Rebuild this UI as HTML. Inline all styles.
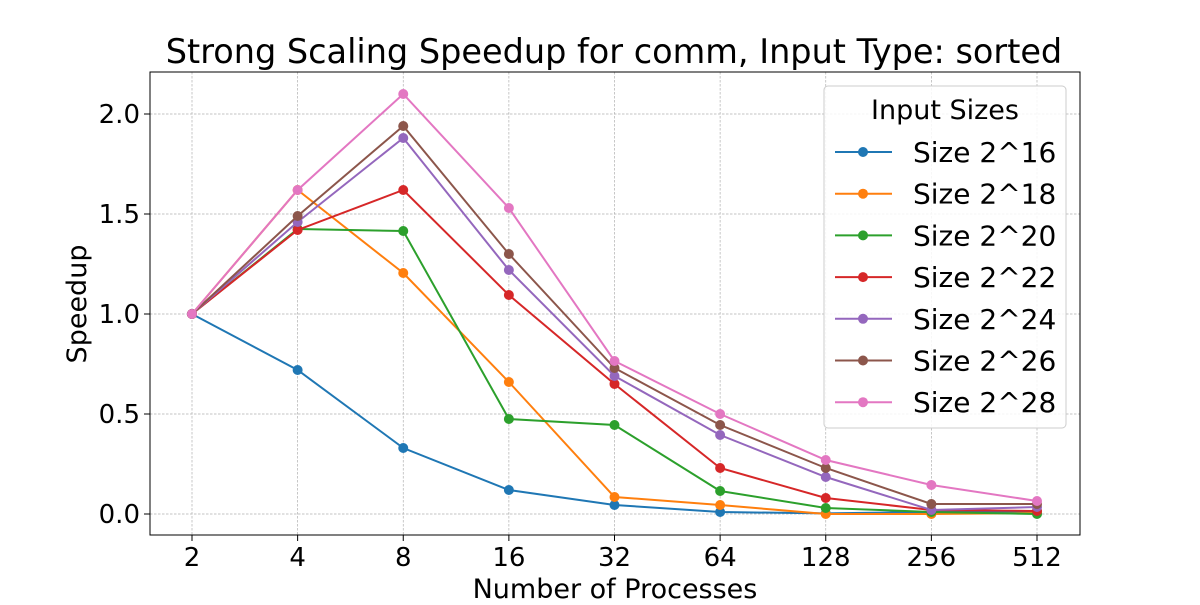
<!DOCTYPE html>
<html><head><meta charset="utf-8"><style>
body{margin:0;background:#fff;font-family:"Liberation Sans","DejaVu Sans",sans-serif}
svg text{font-family:"DejaVu Sans","Liberation Sans",sans-serif}
</style></head><body>
<svg id="chart" width="1200" height="600" xmlns="http://www.w3.org/2000/svg"></svg>
<script>
const categories=["2","4","8","16","32","64","128","256","512"];
const seriesNames=["Size 2^16","Size 2^18","Size 2^20","Size 2^22","Size 2^24","Size 2^26","Size 2^28"];
const s16=[1,0.72,0.33,0.12,0.045,0.01,0.003,0.01,0.01];
const s18=[1,1.62,1.205,0.66,0.085,0.045,0.0,0.0,0.005];
const s20=[1,1.425,1.415,0.475,0.445,0.115,0.03,0.01,0.0];
const s22=[1,1.42,1.62,1.095,0.65,0.23,0.08,0.02,0.015];
const s24=[1,1.46,1.88,1.22,0.69,0.395,0.185,0.02,0.035];
const s26=[1,1.49,1.94,1.30,0.73,0.445,0.23,0.05,0.05];
const s28=[1,1.62,2.10,1.53,0.765,0.50,0.27,0.145,0.065];
const yTicks=[0,0.5,1.0,1.5,2.0];
const yTickLabels=["0.0","0.5","1.0","1.5","2.0"];
const series=[s16,s18,s20,s22,s24,s26,s28];
const colors=["#1f77b4","#ff7f0e","#2ca02c","#d62728","#9467bd","#8c564b","#e377c2"];
const svg=document.getElementById('chart');
const NS="http://www.w3.org/2000/svg";
const L=150,R=1080,T=72,B=535;
const x=i=>192+i*(1037-192)/(categories.length-1);
const y=v=>514-200*v;
function mk(t,a,p){const e=document.createElementNS(NS,t);for(const k in a)e.setAttribute(k,a[k]);(p||svg).appendChild(e);return e;}
categories.forEach((c,i)=>{const g=mk('line',{x1:x(i),x2:x(i),y1:T,y2:B,stroke:'#b0b0b0','stroke-width':0.7,'stroke-dasharray':'2.5,1.5'});


const tk=mk('line',{x1:x(i),x2:x(i),y1:B,y2:B+6,stroke:'#000','stroke-width':1});


const t=mk('text',{x:x(i),y:B+31,'text-anchor':'middle','font-size':26});t.textContent=c;

});
yTicks.forEach((v,i)=>{const g=mk('line',{x1:L,x2:R,y1:y(v),y2:y(v),stroke:'#b0b0b0','stroke-width':0.7,'stroke-dasharray':'2.5,1.5'});


const tk=mk('line',{x1:L-6,x2:L,y1:y(v),y2:y(v),stroke:'#000','stroke-width':1});


const t=mk('text',{x:L-10,y:y(v)+9,'text-anchor':'end','font-size':26});t.textContent=yTickLabels[i];

});
const fr=mk('rect',{x:L,y:T,width:R-L,height:B-T,fill:'none',stroke:'#000','stroke-width':1});


series.forEach((s,k)=>{const pts=s.map((v,i)=>x(i)+','+y(v)).join(' ');
const pl=mk('polyline',{points:pts,fill:'none',stroke:colors[k],'stroke-width':2});


s.forEach((v,i)=>{const c=mk('circle',{cx:x(i),cy:y(v),r:5,fill:colors[k]});

});});
const title=mk('text',{x:614,y:63,'text-anchor':'middle','font-size':33.5});title.textContent="Strong Scaling Speedup for comm, Input Type: sorted";


const xt=mk('text',{x:615,y:598,'text-anchor':'middle','font-size':27});xt.textContent="Number of Processes";


const yt=mk('text',{x:0,y:0,'text-anchor':'middle','font-size':27,transform:'translate(86,304) rotate(-90)'});yt.textContent="Speedup";


const lg=mk('g',{});


mk('rect',{x:824,y:86,width:242,height:342,rx:4,fill:'#fff','fill-opacity':0.85,stroke:'#ccc'},lg);
const lt=mk('text',{x:945,y:119,'text-anchor':'middle','font-size':27},lg);lt.textContent="Input Sizes";


seriesNames.forEach((n,k)=>{const yy=152+k*41.7;
const e=mk('g',{},lg);


mk('line',{x1:835,x2:892,y1:yy,y2:yy,stroke:colors[k],'stroke-width':2},e);
mk('circle',{cx:863,cy:yy,r:5,fill:colors[k]},e);
const t=mk('text',{x:913,y:yy+10,'font-size':28},e);t.textContent=n;});
</script>
</body></html>
